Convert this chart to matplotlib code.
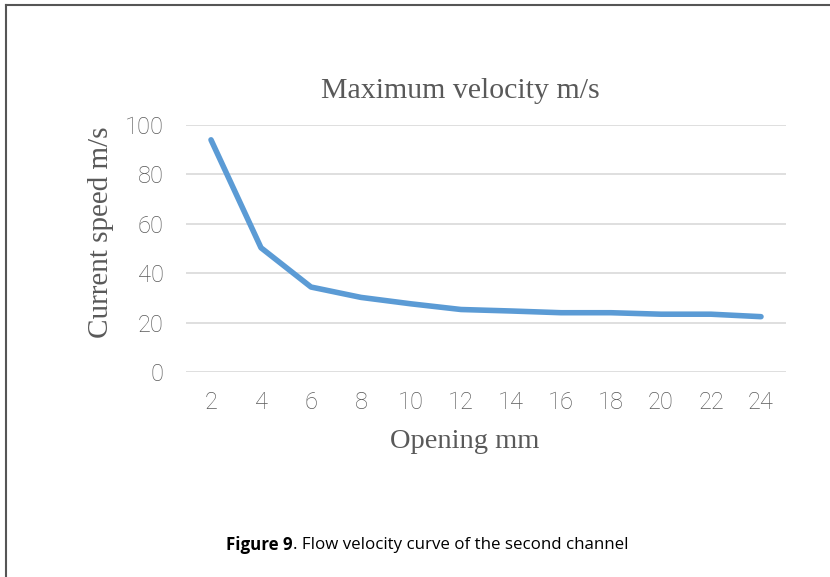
import matplotlib.pyplot as plt

# Opening (mm) vs maximum velocity (m/s)
opening = [2, 4, 6, 8, 10, 12, 14, 16, 18, 20, 22, 24]
velocity = [94, 50.3, 34.4, 30.2, 27.6, 25.3, 24.7, 24.0, 24.0, 23.4, 23.4, 22.4]
yticks = [0, 20, 40, 60, 80, 100]

grey = '#595959'
W, H = 830, 577

fig = plt.figure(figsize=(8.3, 5.77), dpi=100)

# outer frame: top and left edges only
fig.add_artist(plt.Line2D([6/W, 6/W], [0, 1 - 5/H], color='#555555', lw=1.5))
fig.add_artist(plt.Line2D([6/W, 1], [1 - 5/H, 1 - 5/H], color='#555555', lw=1.5))

ax = fig.add_axes([186/W, 1 - 372/H, 600/W, 247/H])
ax.plot(opening, velocity, color='#5B9BD5', lw=4, solid_capstyle='round', solid_joinstyle='round')

ax.set_xlim(1, 25)
ax.set_ylim(0, 100)
ax.set_xticks(opening)
ax.set_yticks(yticks)
ax.grid(axis='y', color='#d9d9d9', lw=1.2)
ax.set_axisbelow(True)
for s in ax.spines.values():
    s.set_visible(False)
ax.tick_params(length=0, labelsize=17, labelcolor=grey)
ax.tick_params(axis='x', pad=14)
ax.tick_params(axis='y', pad=16)
for lab in ax.get_xticklabels() + ax.get_yticklabels():
    lab.set_family('Roboto')
    lab.set_fontweight('light')

fig.text(460/W, 1 - 91/H, 'Maximum velocity m/s', family='Liberation Serif', fontsize=21.5,
         color=grey, ha='center', va='center')
fig.text(465/W, 1 - 441/H, 'Opening mm', family='Liberation Serif', fontsize=20.5,
         color=grey, ha='center', va='center')
fig.text(101/W, 1 - 232/H, 'Current speed m/s', family='Liberation Serif', fontsize=21,
         color=grey, ha='center', va='center', rotation=90)

t1 = fig.text(226/W, 1 - 545/H, 'Figure 9', family='Open Sans', fontweight='bold',
              fontsize=12.2, va='center')
fig.canvas.draw()
bb = t1.get_window_extent()
fig.text(bb.x1 / W, 1 - 545/H, '. Flow velocity curve of the second channel', family='Open Sans',
         fontsize=12.2, va='center')

fig.savefig('out.png', dpi=100)
